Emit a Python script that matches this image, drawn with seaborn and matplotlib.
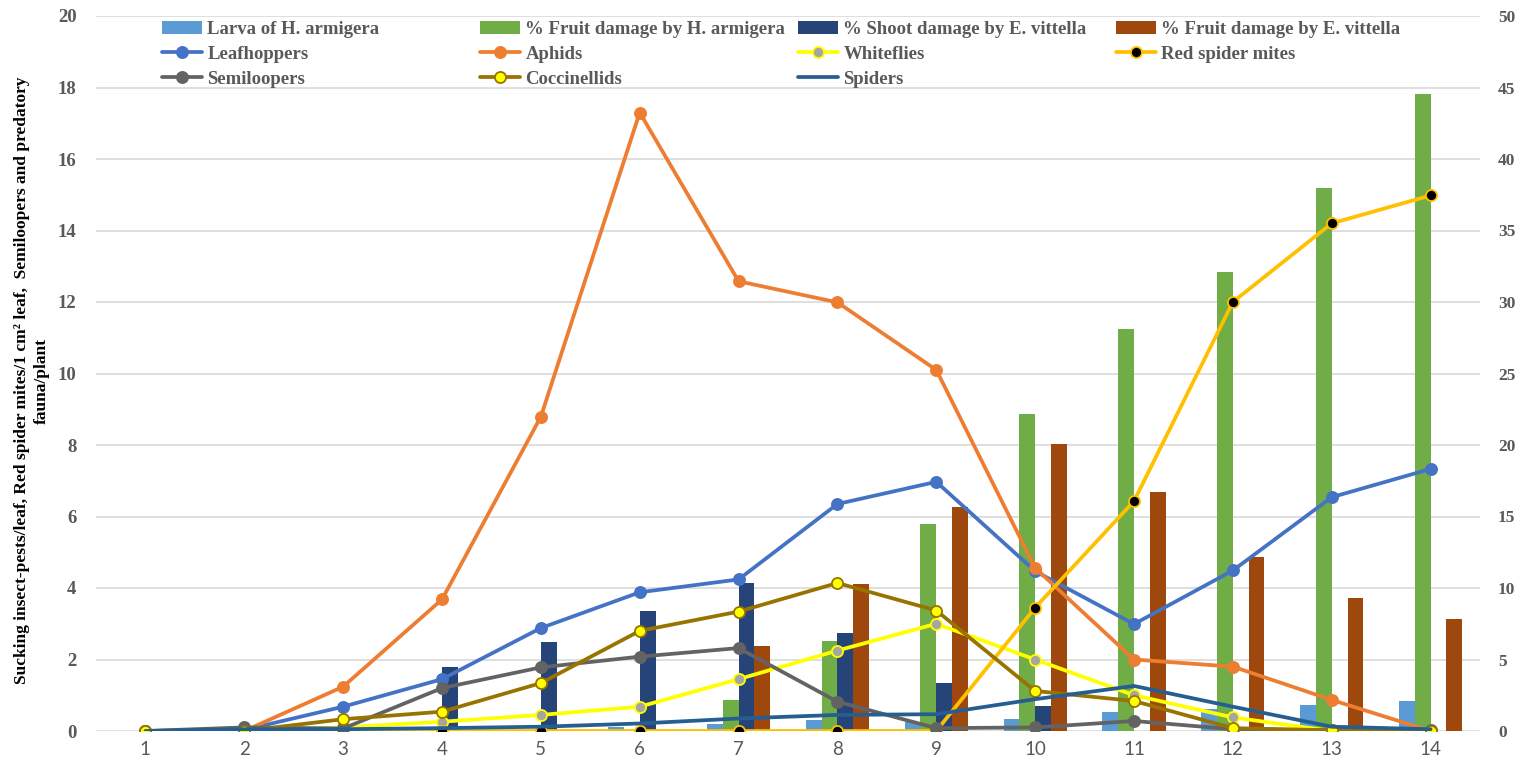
import numpy as np
import pandas as pd
import matplotlib
matplotlib.use('Agg')
import matplotlib.pyplot as plt
import seaborn as sns

# observation weeks (x categories)
weeks = list(range(1, 15))

# bar series, right axis (%, larvae/plant)
larva_h_armigera = [0, 0, 0, 0, 0, 0.3, 0.49, 0.77, 0.65, 0.82, 1.33, 1.52, 1.82, 2.1]
fruit_dmg_h_armigera = [0, 0, 0, 0, 0, 0, 2.17, 6.3, 14.45, 22.2, 28.1, 32.1, 37.95, 44.55]
shoot_dmg_e_vittella = [0, 0, 0, 4.45, 6.22, 8.39, 10.37, 6.83, 3.33, 1.75, 0, 0, 0, 0]
fruit_dmg_e_vittella = [0, 0, 0, 0, 0, 0, 5.94, 10.28, 15.64, 20.07, 16.7, 12.2, 9.28, 7.85]

# line series, left axis
leafhoppers = [0, 0.03, 0.68, 1.45, 2.88, 3.88, 4.24, 6.35, 6.97, 4.47, 2.99, 4.49, 6.54, 7.33]
aphids = [0, 0, 1.24, 3.68, 8.79, 17.3, 12.58, 11.99, 10.1, 4.56, 2.0, 1.8, 0.87, 0]
whiteflies = [0, 0, 0.1, 0.26, 0.45, 0.68, 1.45, 2.25, 3.0, 2.0, 1.0, 0.38, 0, 0]
red_spider_mites = [0, 0, 0, 0, 0, 0, 0, 0, 0, 3.45, 6.43, 12.0, 14.2, 14.98]
semiloopers = [0, 0.1, 0.07, 1.2, 1.78, 2.08, 2.32, 0.82, 0.08, 0.1, 0.28, 0.05, 0.02, 0.02]
coccinellids = [0, 0, 0.33, 0.54, 1.34, 2.8, 3.34, 4.14, 3.37, 1.12, 0.84, 0.08, 0.02, 0]
spiders = [0, 0.05, 0.05, 0.08, 0.12, 0.21, 0.35, 0.45, 0.47, 0.89, 1.26, 0.68, 0.12, 0.05]

bar_labels = ['Larva of H. armigera', '% Fruit damage by H. armigera',
              '% Shoot damage by E. vittella', '% Fruit damage by E. vittella']
bar_values = [larva_h_armigera, fruit_dmg_h_armigera, shoot_dmg_e_vittella, fruit_dmg_e_vittella]
bar_colors = ['#5B9BD5', '#70AD47', '#264478', '#9E480E']

line_labels = ['Leafhoppers', 'Aphids', 'Whiteflies', 'Red spider mites',
               'Semiloopers', 'Coccinellids', 'Spiders']
line_values = [leafhoppers, aphids, whiteflies, red_spider_mites,
               semiloopers, coccinellids, spiders]
line_colors = ['#4472C4', '#ED7D31', '#FFFF00', '#FFC000', '#636363', '#997300', '#255E91']
marker_faces = ['#4472C4', '#ED7D31', '#A5A5A5', '#000000', '#636363', '#FFFF00', None]
marker_edges = ['#4472C4', '#ED7D31', '#FFFF00', '#FFC000', '#636363', '#997300', None]

TEXT = '#595959'

sns.set_theme(style='white')
plt.rcParams['font.family'] = ['Liberation Serif', 'DejaVu Serif']

df_bars = pd.DataFrame({
    'week': np.tile(weeks, len(bar_labels)),
    'series': np.repeat(bar_labels, len(weeks)),
    'value': np.concatenate(bar_values),
})

fig = plt.figure(figsize=(15.24, 7.76), dpi=100)
ax = fig.add_subplot(111)
fig.subplots_adjust(left=96 / 1524, right=1480 / 1524, bottom=1 - 731 / 776, top=1 - 16 / 776)

# bars live on the lower axes, lines on the twin so they draw on top
sns.barplot(data=df_bars, x='week', y='value', hue='series', hue_order=bar_labels,
            palette=bar_colors, saturation=1, width=0.64, gap=0, errorbar=None,
            linewidth=0, legend=False, ax=ax)

ax2 = ax.twinx()
xpos = np.arange(len(weeks))
for vals, c, fc, ec in zip(line_values, line_colors, marker_faces, marker_edges):
    if fc is None:
        sns.lineplot(x=xpos, y=vals, color=c, lw=2.7, errorbar=None, ax=ax2)
    else:
        sns.lineplot(x=xpos, y=vals, color=c, lw=2.7, errorbar=None, marker='o',
                     markersize=8, markerfacecolor=fc, markeredgecolor=ec,
                     markeredgewidth=1.3, ax=ax2)

# right axis = bars, left axis = lines
ax.set_ylim(0, 50)
ax.yaxis.tick_right()
ax.set_yticks(range(0, 51, 5), labels=[str(v) for v in range(0, 51, 5)],
              fontweight='bold', fontsize=12.5, color=TEXT)
ax.set_ylabel('')
ax.set_xlabel('')
ax.set_xlim(-0.5, len(weeks) - 0.5)
ax.yaxis.grid(True, color='#D9D9D9', lw=1.2)
ax.set_axisbelow(True)
ax.yaxis.set_tick_params(which='both', length=0, pad=13)
ax.tick_params(axis='x', length=0, pad=7, labelsize=13.5, labelcolor=TEXT, labelfontfamily='Lato')

ax2.set_ylim(0, 20)
ax2.yaxis.tick_left()
ax2.yaxis.set_label_position('left')
ax2.set_yticks(range(0, 21, 2), labels=[str(v) for v in range(0, 21, 2)],
               fontweight='bold', fontsize=13.5, color=TEXT)
ax2.yaxis.set_tick_params(which='both', length=0, pad=14)
ax2.set_ylabel('Sucking insect-pests/leaf, Red spider mites/1 cm\u00b2 leaf,  Semiloopers and predatory\nfauna/plant',
               fontsize=12.5, fontweight='bold', color='black', linespacing=1.4)
ax2.yaxis.set_label_coords(-0.033, 0.49)

for a in (ax, ax2):
    for s in a.spines.values():
        s.set_visible(False)

# legend: four columns laid out like the spreadsheet legend
bar_handles = list(ax.containers)
line_handles = ax2.get_lines()[:len(line_labels)]
for j in range(4):
    hs = [bar_handles[j], line_handles[j]]
    ls = [bar_labels[j], line_labels[j]]
    if j + 4 < len(line_labels):
        hs.append(line_handles[j + 4])
        ls.append(line_labels[j + 4])
    fig.legend(hs, ls, loc='upper left', bbox_to_anchor=((162 + 318 * j) / 1524, 1 - 21 / 776),
               frameon=False, handlelength=2.15, handletextpad=0.27, labelspacing=0.41,
               borderpad=0, borderaxespad=0, labelcolor=TEXT,
               prop={'weight': 'bold', 'size': 13.5})

fig.savefig('out.png', dpi=100)
